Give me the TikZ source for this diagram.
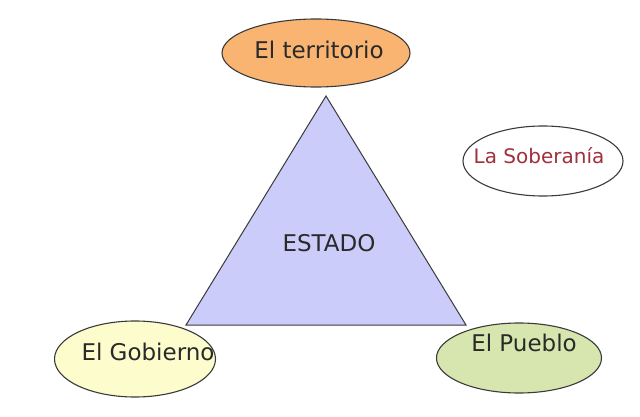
\documentclass[tikz,border=0pt]{standalone}
\usepackage{fontspec}
\setmainfont{DejaVu Sans}
\usetikzlibrary{shapes.geometric}
\definecolor{edge}{HTML}{3A3A3A}
\definecolor{txt}{HTML}{2A2A2A}
\definecolor{orangefill}{HTML}{F9B472}
\definecolor{trifill}{HTML}{CCCCFA}
\definecolor{yellowfill}{HTML}{FCFCCC}
\definecolor{greenfill}{HTML}{D6E6AE}
\definecolor{redtxt}{HTML}{A0303C}
\tikzset{
  blob/.style={ellipse, draw=edge, line width=1.1pt, inner sep=0pt},
  lbl/.style={text=txt, font=\fontsize{23}{26}\selectfont, inner sep=0pt, anchor=base},
}
\begin{document}
\begin{tikzpicture}[x=1pt,y=-1pt]
\useasboundingbox (0,0) rectangle (640,417);
\coordinate (apex) at (326,96);
\coordinate (bl) at (186,325);
\coordinate (br) at (466,325);
\draw[fill=trifill, draw=edge, line width=1pt, line join=miter] (apex) -- (br) -- (bl) -- cycle;
\node[lbl] (estado) at (329,251) {ESTADO};
\node[blob, fill=orangefill, minimum width=188pt, minimum height=68pt] (terr) at (316,53) {};
\node[lbl] (terrt) at (319,59) {El territorio};
\node[blob, fill=white, minimum width=160pt, minimum height=70pt] (sob) at (543,161) {};
\node[lbl, text=redtxt, font=\fontsize{20}{22}\selectfont] (sobt) at (539,164) {La Soberanía};
\node[blob, fill=yellowfill, minimum width=161pt, minimum height=76pt] (gob) at (135,359) {};
\node[lbl] (gobt) at (148,360) {El Gobierno};
\node[blob, fill=greenfill, minimum width=165pt, minimum height=70pt] (pue) at (519,358) {};
\node[lbl] (puet) at (524,351) {El Pueblo};
\end{tikzpicture}
\end{document}
